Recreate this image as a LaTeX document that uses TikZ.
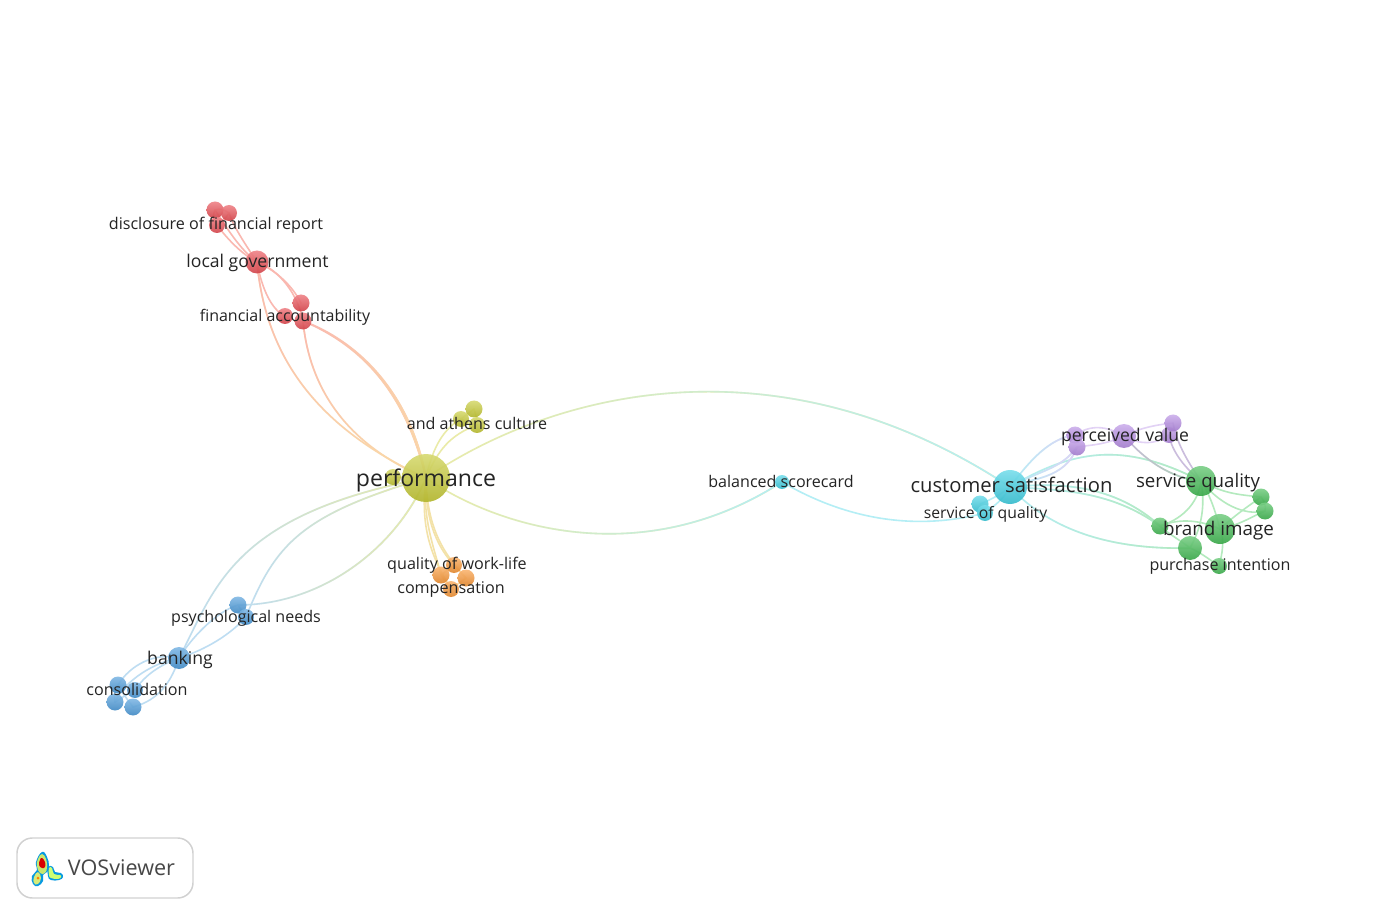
\documentclass[tikz,border=0pt]{standalone}
\usepackage{fontspec}
\setmainfont{Open Sans}
\usetikzlibrary{fadings}
\pgfdeclarelayer{paper}
\pgfdeclarelayer{edges}
\pgfsetlayers{paper,edges,main}
\definecolor{cred}{HTML}{E8484F}
\definecolor{cyel}{HTML}{C4C82E}
\definecolor{corg}{HTML}{F8922E}
\definecolor{cblu}{HTML}{4597D9}
\definecolor{ccya}{HTML}{38CEE2}
\definecolor{cgrn}{HTML}{3CB84E}
\definecolor{cpur}{HTML}{B388E2}
\definecolor{ered}{HTML}{FAB8B0}
\definecolor{eyel}{HTML}{EAEBA8}
\definecolor{eorg}{HTML}{FADAA8}
\definecolor{eblu}{HTML}{BEDDF2}
\definecolor{ecya}{HTML}{B4EEF5}
\definecolor{egrn}{HTML}{B4EABE}
\definecolor{epur}{HTML}{E2D2F5}
\tikzset{
  x=0.75pt,y=-0.75pt,
  ball/.style={circle,inner sep=0pt,outer sep=0pt,draw=none,opacity=.9},
  lab/.style={inner sep=0pt,text=black!86,align=center},
  link/.style={line width=1.2pt,line cap=round},
}
% name, x, y, radius, colour
\newcommand{\ballnode}[5]{\node[ball,minimum size=#4*1.5pt,top color=#5!68!white,bottom color=#5!90!black] (#1) at (#2,#3) {};}
% name, x, y, font size in pt, text
\newcommand{\labnode}[5]{\node[lab,font=\fontsize{#4pt}{#4pt}\selectfont] (#1) at (#2,#3) {#5};}
% from, to, ctrl1, ctrl2, colour
\newcommand{\edge}[5]{\draw[link,#5] (#1.center) .. controls #3 and #4 .. (#2.center);}
% two-colour edge, left-hand colour then right-hand colour
\newcommand{\gedge}[6]{\draw[link,#5] (#1.center) .. controls #3 and #4 .. (#2.center);
  \draw[link,#6,path fading=west] (#1.center) .. controls #3 and #4 .. (#2.center);}
\begin{document}
\begin{tikzpicture}
\useasboundingbox (0,0) rectangle (1379,916);
\begin{pgfonlayer}{paper}
\fill[white] (0,0) rectangle (1379,916);
\end{pgfonlayer}
% ---------- balls
\ballnode{pf}{426}{478}{24}{cyel}
\ballnode{pfb}{393}{477}{8}{cyel}
\ballnode{at}{474}{409}{8.5}{cyel}
\ballnode{au}{461}{419}{8}{cyel}
\ballnode{av}{477}{425}{8}{cyel}
\ballnode{oa}{454}{565}{8}{corg}
\ballnode{ob}{441}{575}{8.5}{corg}
\ballnode{oc}{466}{578}{8.5}{corg}
\ballnode{od}{451}{589}{8}{corg}
\ballnode{ra}{215}{210}{8.5}{cred}
\ballnode{rb}{229}{213}{8}{cred}
\ballnode{rc}{217}{225}{8}{cred}
\ballnode{lg}{257}{262}{11.5}{cred}
\ballnode{fa}{301}{303}{8.5}{cred}
\ballnode{fb}{285}{316}{8}{cred}
\ballnode{fc}{303}{321}{8.5}{cred}
\ballnode{pa}{238}{605}{8.5}{cblu}
\ballnode{pb}{246}{617}{8}{cblu}
\ballnode{bk}{179}{658}{11}{cblu}
\ballnode{ca}{118}{685}{8.5}{cblu}
\ballnode{cb}{135}{690}{8}{cblu}
\ballnode{cc}{115}{702}{8.5}{cblu}
\ballnode{cd}{133}{707}{8.5}{cblu}
\ballnode{bs}{782}{482}{7}{ccya}
\ballnode{cs}{1010}{487}{17}{ccya}
\ballnode{sa}{980}{504}{8.5}{ccya}
\ballnode{sb}{985}{513}{8}{ccya}
\ballnode{va}{1075}{435}{8.5}{cpur}
\ballnode{vb}{1077}{447}{8.5}{cpur}
\ballnode{pv}{1124}{436}{12}{cpur}
\ballnode{vc}{1169}{435}{8}{cpur}
\ballnode{vd}{1173}{423}{8.5}{cpur}
\ballnode{sq}{1201}{481}{15}{cgrn}
\ballnode{ga}{1261}{497}{8.5}{cgrn}
\ballnode{gb}{1265}{511}{8.5}{cgrn}
\ballnode{gc}{1160}{526}{8.5}{cgrn}
\ballnode{bi}{1220}{529}{15}{cgrn}
\ballnode{pi}{1190}{548}{12}{cgrn}
\ballnode{gd}{1219}{566}{8}{cgrn}
% ---------- connectors
\begin{pgfonlayer}{edges}
\gedge{pf}{bs}{(495,526)}{(640,573)}{eyel}{ecya}
\gedge{pf}{cs}{(555,390)}{(780,335)}{eyel}{ecya}
\edge{bs}{sb}{(830,510)}{(900,535)}{ecya}
\gedge{cs}{pi}{(1050,530)}{(1110,550)}{ecya}{egrn}
\gedge{cs}{gc}{(1060,490)}{(1110,490)}{ecya}{egrn}
\gedge{cs}{gc}{(1060,482)}{(1115,485)}{ecya}{egrn}
\gedge{cs}{sq}{(1080,445)}{(1130,445)}{ecya}{egrn}
\gedge{cs}{va}{(1030,460)}{(1050,438)}{ecya}{epur}
\gedge{cs}{vb}{(1040,470)}{(1060,470)}{ecya}{epur}
\gedge{cs}{vb}{(1030,478)}{(1065,480)}{ecya}{epur}
\edge{cs}{sa}{(1000,495)}{(990,500)}{ecya}
\edge{cs}{sb}{(1003,500)}{(995,505)}{ecya}
\edge{va}{pv}{(1090,425)}{(1105,425)}{epur}
\edge{vb}{pv}{(1090,445)}{(1105,445)}{epur}
\edge{pv}{vc}{(1140,445)}{(1155,445)}{epur}
\edge{pv}{vd}{(1140,428)}{(1155,425)}{epur}
\gedge{pv}{sq}{(1145,460)}{(1170,478)}{black!12!epur}{black!6!egrn}
\draw[link,black!10!epur] (vc.center) .. controls (1172,452) and (1185,468) .. (sq.center);
\draw[link,black!10!epur] (vd.center) .. controls (1177,445) and (1190,465) .. (sq.center);
\edge{sq}{gc}{(1198,505)}{(1180,520)}{egrn}
\edge{sq}{bi}{(1210,495)}{(1215,510)}{egrn}
\edge{sq}{pi}{(1206,510)}{(1200,530)}{egrn}
\edge{sq}{ga}{(1225,495)}{(1245,495)}{egrn}
\edge{sq}{gb}{(1225,510)}{(1250,515)}{egrn}
\edge{gc}{bi}{(1180,518)}{(1200,520)}{egrn}
\edge{gc}{pi}{(1170,535)}{(1180,540)}{egrn}
\edge{bi}{ga}{(1235,515)}{(1250,505)}{egrn}
\edge{bi}{gb}{(1240,525)}{(1255,515)}{egrn}
\edge{pi}{gd}{(1200,552)}{(1210,560)}{egrn}
\edge{bi}{gd}{(1225,540)}{(1222,555)}{egrn}
\edge{ga}{gb}{(1265,502)}{(1266,506)}{egrn}
% red group
\edge{ra}{lg}{(225,225)}{(240,250)}{ered}
\edge{rb}{lg}{(235,230)}{(248,248)}{ered}
\edge{rc}{lg}{(228,240)}{(243,255)}{ered}
\edge{ra}{rb}{(220,208)}{(225,210)}{ered}
\edge{ra}{rc}{(212,216)}{(214,221)}{ered}
\edge{rb}{rc}{(226,218)}{(222,222)}{ered}
\edge{lg}{fa}{(275,270)}{(292,285)}{ered}
\edge{lg}{fc}{(280,270)}{(298,295)}{ered}
\edge{lg}{fb}{(262,290)}{(272,310)}{ered}
\gedge{fc}{pf}{(360,345)}{(405,390)}{ered}{eorg}
\gedge{fc}{pf}{(355,340)}{(410,390)}{ered}{eorg}
\draw[link,eorg] (fc.center) .. controls (308,375) and (335,440) .. (pf.center);
\draw[link,ered,path fading=south] (fc.center) .. controls (308,375) and (335,440) .. (pf.center);
\draw[link,eorg] (lg.center) .. controls (265,350) and (310,425) .. (pf.center);
\draw[link,ered,path fading=south] (lg.center) .. controls (265,350) and (310,425) .. (pf.center);
% yellow and orange group
\edge{pf}{au}{(433,445)}{(445,428)}{eyel}
\edge{pf}{av}{(438,450)}{(450,435)}{eyel}
\edge{pf}{pfb}{(415,478)}{(405,477)}{eyel}
\edge{at}{au}{(470,412)}{(466,415)}{eyel}
\edge{at}{av}{(476,415)}{(477,420)}{eyel}
\edge{au}{av}{(467,423)}{(472,424)}{eyel}
\draw[link,eyel!45!eorg] (pf.center) .. controls (422,520) and (435,550) .. (ob.center);
\draw[link,eyel!45!eorg] (pf.center) .. controls (425,525) and (440,550) .. (oa.center);
\draw[link,eyel!45!eorg] (pf.center) .. controls (427,530) and (445,555) .. (oc.center);
\draw[link,eyel!45!eorg] (pf.center) .. controls (420,525) and (430,555) .. (od.center);
\draw[link,eorg] (oa.center) -- (ob.center) (oa.center) -- (oc.center) (ob.center) -- (od.center) (oc.center) -- (od.center);
% blue group
\gedge{bk}{pf}{(215,590)}{(230,515)}{eblu}{eyel}
\gedge{pb}{pf}{(275,545)}{(300,515)}{eblu}{eyel}
\gedge{pa}{pf}{(320,605)}{(395,550)}{eblu}{eyel}
\edge{pa}{pb}{(240,608)}{(243,612)}{eblu}
\edge{bk}{pb}{(205,650)}{(230,635)}{eblu}
\edge{bk}{pa}{(190,640)}{(215,612)}{eblu}
\edge{bk}{ca}{(155,652)}{(130,665)}{eblu}
\edge{bk}{cb}{(160,665)}{(145,675)}{eblu}
\edge{bk}{cc}{(155,662)}{(125,680)}{eblu}
\edge{bk}{cd}{(172,680)}{(160,700)}{eblu}
\edge{ca}{cc}{(114,690)}{(114,697)}{eblu}
\edge{ca}{cd}{(122,693)}{(128,700)}{eblu}
\edge{cb}{cc}{(128,693)}{(122,698)}{eblu}
\end{pgfonlayer}
% ---------- labels
\labnode{lpf}{426}{480.5}{17.3}{performance}
\labnode{lat}{477}{423}{12.05}{and athens culture}
\labnode{loa}{457}{565}{12.1}{quality of work-life}
\labnode{lob}{451}{590}{12.1}{compensation}
\labnode{lra}{216}{225.5}{12.1}{disclosure of financial report}
\labnode{llg}{257.5}{263}{13.2}{local government}
\labnode{lfa}{285}{317}{12}{financial accountability}
\labnode{lpa}{246}{618}{12.05}{psychological needs}
\labnode{lbk}{180}{659.5}{13.2}{banking}
\labnode{lca}{137}{689.5}{12.1}{consolidation}
\labnode{lbs}{781}{481}{12.05}{balanced scorecard}
\labnode{lcs}{1011.5}{485}{15.15}{customer satisfaction}
\labnode{lsa}{985.5}{514}{11.8}{service of quality}
\labnode{lpv}{1125}{437}{13.2}{perceived value}
\labnode{lsq}{1198}{482.5}{14}{service quality}
\labnode{lbi}{1218.5}{531}{14.1}{brand image}
\labnode{lpi}{1220}{566}{12.05}{purchase intention}
% ---------- logo
\draw[black!18,fill=white,line width=1.1pt,rounded corners=11.5pt] (17,838) rectangle (193,898);
\labnode{llogo}{121.5}{868}{16.2}{\textcolor{black!72}{VOSviewer}}
\fill[cyan!85!blue] plot[smooth cycle,tension=.8] coordinates {(42,852) (47,857) (49,866) (47,872) (43,875) (43,881) (38,886) (33,884) (32,876) (37,870) (36,862)};
\fill[cyan!85!blue] plot[smooth cycle,tension=.8] coordinates {(48,867) (53,867) (55,872) (61,873) (63,877) (59,880) (51,880) (48,876)};
\fill[yellow!65!green!60!white] plot[smooth cycle,tension=.8] coordinates {(42,854) (46,859) (47,867) (45,873) (40,873) (37,866) (38,859)};
\fill[yellow!70!green!55!white] plot[smooth cycle,tension=.8] coordinates {(38,872) (41,878) (38,884) (34,883) (34,877)};
\fill[green!35!yellow!55!white] plot[smooth cycle,tension=.8] coordinates {(49,868) (52,868) (54,874) (60,875) (61,877) (58,879) (51,878) (49,875)};
\fill[red!85!black] plot[smooth cycle,tension=.8] coordinates {(42,858) (45,862) (45,867) (42,868) (39,865) (40,860)};
\fill[orange] (38,878) circle[radius=1.5];
\end{tikzpicture}
\end{document}
